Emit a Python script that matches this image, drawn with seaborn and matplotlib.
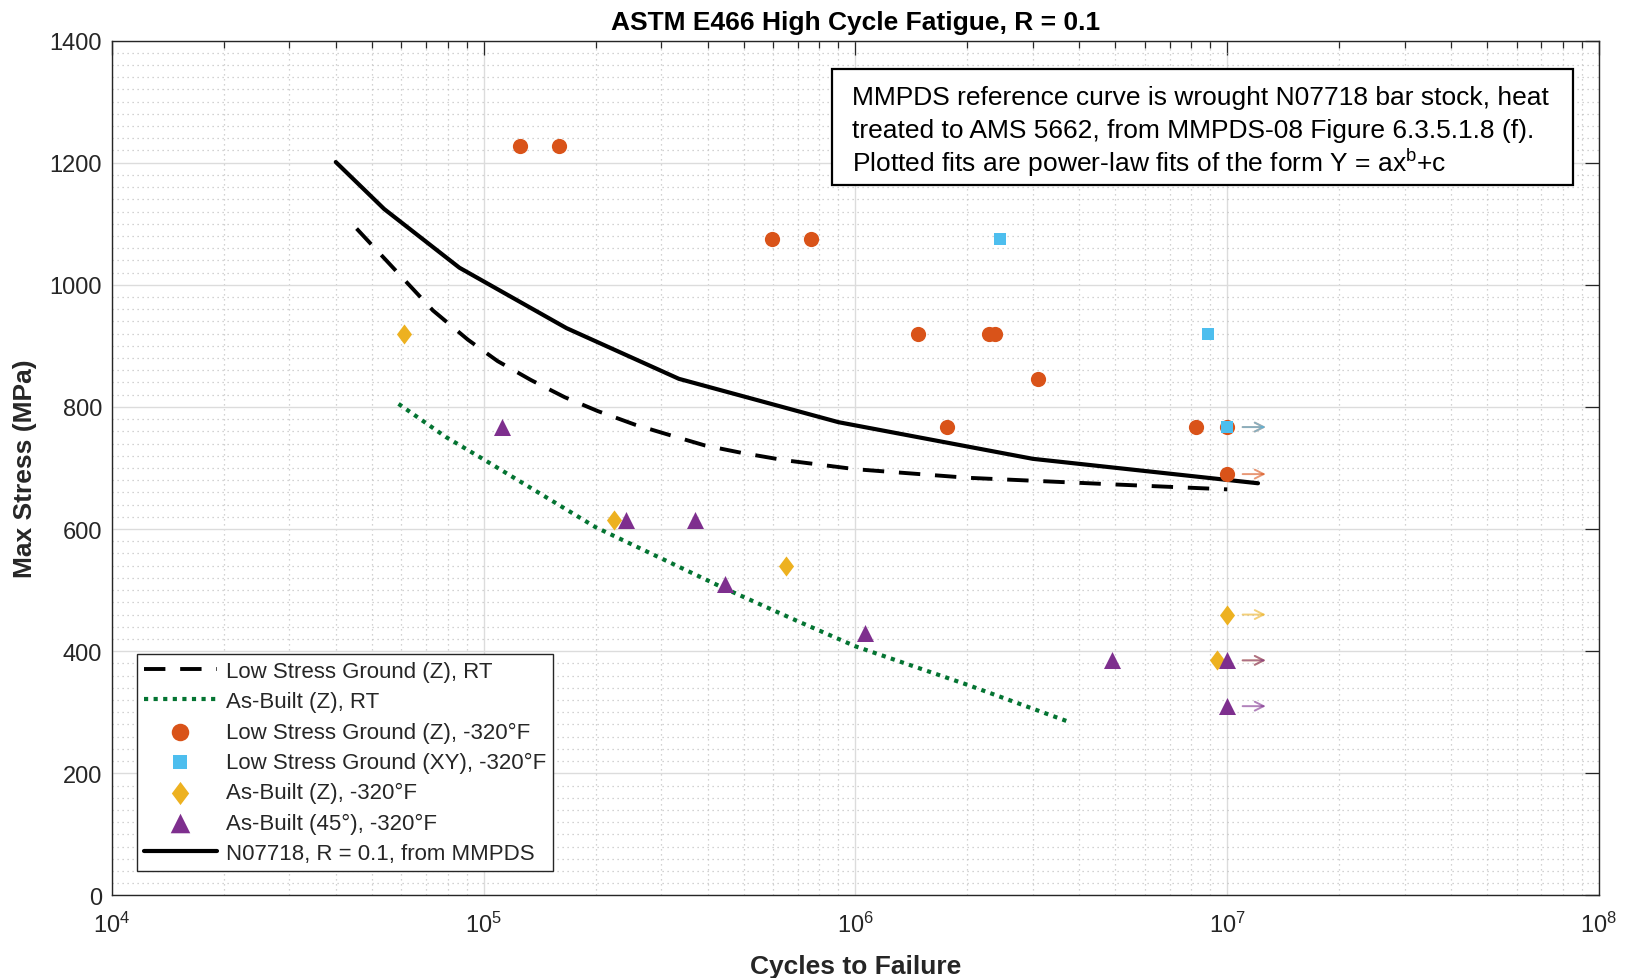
import numpy as np
import pandas as pd
import matplotlib
matplotlib.use("Agg")
import matplotlib.pyplot as plt
import matplotlib.ticker as mticker
from matplotlib.patches import Rectangle
import seaborn as sns

# ---- MMPDS reference curve, N07718 bar stock, R = 0.1 ----
mmpds_cycles = [4.0e4, 5.4e4, 8.6e4, 1.67e5, 3.35e5, 9.0e5, 3.0e6, 1.21e7]
mmpds_stress = [1201, 1124, 1028, 929, 846, 775, 715, 675]

# ---- Power-law fit, low stress ground (Z), room temperature ----
lsg_rt_cycles = [4.55e4, 7.3e4, 9.07e4, 1.09e5, 1.34e5, 1.65e5, 2.03e5, 2.55e5, 3.16e5,
                 3.93e5, 4.92e5, 6.4e5, 1.0e6, 2.0e6, 5.0e6, 1.0e7]
lsg_rt_stress = [1092, 958, 910, 875, 844, 816, 793, 771, 754,
                 737, 725, 713, 698, 684, 673, 665]

# ---- Power-law fit, as-built (Z), room temperature ----
ab_rt_cycles = [5.9e4, 7.9e4, 1.0e5, 2.0e5, 4.4e5, 7.0e5, 1.0e6, 2.0e6, 3.8e6]
ab_rt_stress = [805, 751, 714, 603, 504, 449, 408, 345, 283]

# ---- Cryogenic (-320 F) test results; runout = 1 marks a test stopped without failure ----
lsg_z_cycles = [1.25e5, 1.59e5, 5.95e5, 7.6e5, 1.47e6, 2.28e6, 2.37e6, 3.1e6, 1.76e6, 8.25e6, 1.0e7, 1.0e7]
lsg_z_stress = [1227, 1227, 1075, 1075, 920, 920, 920, 845, 767, 767, 767, 690]
lsg_z_runout = [0, 0, 0, 0, 0, 0, 0, 0, 0, 0, 1, 1]

lsg_xy_cycles = [2.45e6, 8.85e6, 1.0e7]
lsg_xy_stress = [1075, 920, 767]
lsg_xy_runout = [0, 0, 1]

ab_z_cycles = [6.1e4, 2.24e5, 6.5e5, 1.0e7, 9.4e6]
ab_z_stress = [920, 615, 540, 460, 385]
ab_z_runout = [0, 0, 0, 1, 1]

ab45_cycles = [1.12e5, 2.41e5, 3.7e5, 4.46e5, 1.06e6, 4.9e6, 1.0e7, 1.0e7]
ab45_stress = [767, 615, 615, 510, 430, 385, 385, 310]
ab45_runout = [0, 0, 0, 0, 0, 0, 1, 1]

runout_limit = 1.0e7

C_ORANGE = "#D95319"
C_BLUE = "#4DBEEE"
C_YELLOW = "#EDB120"
C_PURPLE = "#7E2F8E"
C_GREEN = "#047432"
AX_GRAY = "#262626"

sns.set_style("white")
plt.rcParams["font.family"] = ["Liberation Sans", "DejaVu Sans"]
plt.rcParams["mathtext.fontset"] = "custom"
plt.rcParams["mathtext.rm"] = "Liberation Sans"
plt.rcParams["mathtext.it"] = "Liberation Sans:italic"
plt.rcParams["mathtext.bf"] = "Liberation Sans:bold"

fig = plt.figure(figsize=(16.25, 9.79), dpi=100)
ax = fig.add_axes([0.0689, 0.0843, 0.9151, 0.8733])

def frame(x, y):
    return pd.DataFrame({"cycles": x, "stress": y})

# fitted / reference curves
sns.lineplot(data=frame(lsg_rt_cycles, lsg_rt_stress), x="cycles", y="stress", ax=ax,
             sort=False, estimator=None, color="black", lw=2.8,
             label="Low Stress Ground (Z), RT", zorder=3)
ax.lines[-1].set_dashes((5.5, 3.8))
sns.lineplot(data=frame(ab_rt_cycles, ab_rt_stress), x="cycles", y="stress", ax=ax,
             sort=False, estimator=None, color=C_GREEN, lw=3.0,
             label="As-Built (Z), RT", zorder=3)
ax.lines[-1].set_linestyle((0, (1, 1.3)))

scatter_kw = dict(ax=ax, linewidth=0, zorder=4)
sns.scatterplot(data=frame(lsg_z_cycles, lsg_z_stress), x="cycles", y="stress",
                color=C_ORANGE, marker="o", s=120,
                label="Low Stress Ground (Z), -320°F", **scatter_kw)
sns.scatterplot(data=frame(lsg_xy_cycles, lsg_xy_stress), x="cycles", y="stress",
                color=C_BLUE, marker="s", s=85,
                label="Low Stress Ground (XY), -320°F", **scatter_kw)
diamond = [(0, 1), (0.75, 0), (0, -1), (-0.75, 0), (0, 1)]
sns.scatterplot(data=frame(ab_z_cycles, ab_z_stress), x="cycles", y="stress",
                color=C_YELLOW, marker=diamond, s=210,
                label="As-Built (Z), -320°F", **scatter_kw)
sns.scatterplot(data=frame(ab45_cycles, ab45_stress), x="cycles", y="stress",
                color=C_PURPLE, marker="^", s=150,
                label="As-Built (45°), -320°F", **scatter_kw)

sns.lineplot(data=frame(mmpds_cycles, mmpds_stress), x="cycles", y="stress", ax=ax,
             sort=False, estimator=None, color="black", lw=3.0,
             label="N07718, R = 0.1, from MMPDS", zorder=3.5)

# runout arrows
for stress, runout, color in [(lsg_z_stress, lsg_z_runout, C_ORANGE),
                              (lsg_xy_stress, lsg_xy_runout, C_BLUE),
                              (ab_z_stress, ab_z_runout, C_YELLOW),
                              (ab45_stress, ab45_runout, C_PURPLE)]:
    for s_val, r in zip(stress, runout):
        if r:
            ax.annotate("", xy=(runout_limit * 1.27, s_val), xytext=(runout_limit * 1.10, s_val),
                        arrowprops=dict(arrowstyle="->", color=color, alpha=0.6, lw=1.4,
                                        mutation_scale=16, shrinkA=0, shrinkB=0),
                        zorder=4)

# axes, ticks, grid
ax.set_xscale("log")
ax.set_xlim(1e4, 1e8)
ax.set_ylim(0, 1400)
ax.set_yticks(np.arange(0, 1401, 200))
ax.yaxis.set_minor_locator(mticker.MultipleLocator(20))
ax.xaxis.set_major_locator(mticker.LogLocator(base=10, numticks=10))
ax.xaxis.set_minor_locator(mticker.LogLocator(base=10, subs=np.arange(2, 10), numticks=100))
ax.xaxis.set_minor_formatter(mticker.NullFormatter())

ax.tick_params(which="both", direction="in", top=True, right=True,
               color=AX_GRAY, labelcolor=AX_GRAY, width=0.9)
ax.tick_params(which="major", length=10, labelsize=17)
ax.tick_params(axis="x", which="major", pad=12)
ax.tick_params(axis="y", which="major", pad=7)
ax.tick_params(axis="x", which="minor", length=5)
ax.tick_params(axis="y", which="minor", length=0)

ax.grid(which="major", color="#dcdcdc", lw=1.0, ls="-", zorder=0)
ax.grid(which="minor", color="#c4c4c4", lw=0.9, ls=(0, (1, 3)), zorder=0)
ax.set_axisbelow(True)
for sp in ax.spines.values():
    sp.set_color(AX_GRAY)
    sp.set_linewidth(1.0)

ax.set_xlabel("Cycles to Failure", fontsize=19, fontweight="bold", color=AX_GRAY, labelpad=12)
ax.set_ylabel("Max Stress (MPa)", fontsize=19, fontweight="bold", color=AX_GRAY, labelpad=9)
ax.set_title("ASTM E466 High Cycle Fatigue, R = 0.1", fontsize=19, fontweight="bold",
             color="black", pad=8)

# legend
handles, labels = ax.get_legend_handles_labels()
leg = ax.legend(handles, labels, loc="lower left", bbox_to_anchor=(0.0168, 0.0287),
                borderaxespad=0, fontsize=16, frameon=True, fancybox=False,
                framealpha=1, edgecolor=AX_GRAY, handlelength=3.3, handletextpad=0.4,
                labelspacing=0.42, borderpad=0.3, markerscale=1.15)
leg.get_frame().set_linewidth(1.0)
leg.set_zorder(6)

# annotation box
ax.add_patch(Rectangle((0.4842, 0.831), 0.4983, 0.1357, transform=ax.transAxes,
                       facecolor="white", edgecolor="black", lw=1.6, zorder=6))
note_lines = [
    "MMPDS reference curve is wrought N07718 bar stock, heat",
    "treated to AMS 5662, from MMPDS-08 Figure 6.3.5.1.8 (f).",
    r"Plotted fits are power-law fits of the form Y = ax$^{\mathregular{b}}$+c",
]
for i, line in enumerate(note_lines):
    ax.text(0.4977, 0.9335 - i * 0.0376, line, transform=ax.transAxes, fontsize=19,
            ha="left", va="center", color="black", zorder=7)

fig.savefig("out.png", dpi=100)
